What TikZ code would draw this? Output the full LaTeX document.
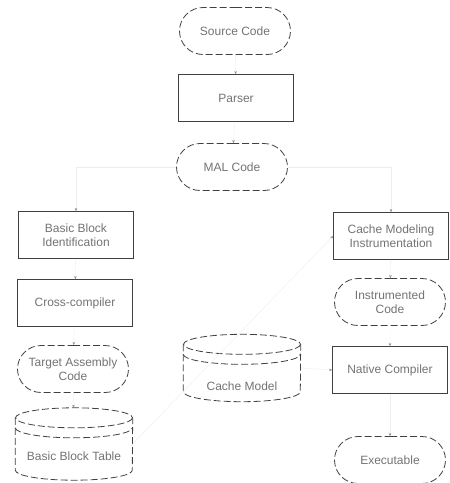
\documentclass[tikz,border=0pt]{standalone}
\usepackage{fontspec}
\setmainfont{Liberation Sans}
\usetikzlibrary{arrows.meta,calc,shapes.misc}
\tikzset{
  base/.style={draw=black!75, line width=0.8pt, text=black!55, font=\fontsize{12}{13.5}\selectfont, align=center, inner sep=2pt},
  stadium/.style={base, rounded rectangle, dashed, dash pattern=on 7pt off 3pt, minimum width=115pt, minimum height=47pt},
  boxnode/.style={base, rectangle, minimum width=115pt, minimum height=47pt},
  drumbody/.style={draw=none, minimum width=117pt, inner sep=0pt},
  drumline/.style={draw=black!75, line width=0.8pt, dashed, dash pattern=on 7pt off 3pt},
  drumtext/.style={text=black!55, font=\fontsize{12}{13.5}\selectfont},
  conn/.style={draw=black!7, line width=0.4pt, -{Stealth[length=3pt,width=2.5pt,color=black!45,fill=black!45]}}
}
\begin{document}
\begin{tikzpicture}[x=1pt,y=-1pt]
\useasboundingbox (0,0) rectangle (450,483);
% nodes
\node[stadium] (src) at (235,31) {Source Code};
\node[boxnode] (parser) at (236,98) {Parser};
\node[stadium] (mal) at (232,167) {MAL Code};
\node[boxnode] (bbi) at (76,235) {Basic Block\\Identification};
\node[boxnode] (cross) at (75,303) {Cross-compiler};
\node[stadium] (tac) at (73,369) {Target Assembly\\Code};
\node[boxnode] (cmi) at (391,236) {Cache Modeling\\Instrumentation};
\node[stadium] (inst) at (390,302) {Instrumented\\Code};
\node[boxnode] (native) at (390,370) {Native Compiler};
\node[stadium] (exe) at (390,460) {Executable};
% drums
\node[drumbody, minimum height=72pt] (bbt) at (74,444) {};
\draw[drumline] ($(bbt.north)+(0,10)$) ellipse [x radius=58.5, y radius=10];
\draw[drumline] ($(bbt.north west)+(0,10)$) -- ($(bbt.south west)+(0,-10)$)
  arc[start angle=180, end angle=0, x radius=58.5, y radius=10] -- ($(bbt.north east)+(0,10)$);
\draw[drumline] ($(bbt.north west)+(0,20)$) arc[start angle=180, end angle=0, x radius=58.5, y radius=10];
\node[drumtext] (bbtl) at (74,456) {Basic Block Table};
\node[drumbody, minimum height=67pt] (cm) at (242,368) {};
\draw[drumline] ($(cm.north)+(0,10)$) ellipse [x radius=58.5, y radius=10];
\draw[drumline] ($(cm.north west)+(0,10)$) -- ($(cm.south west)+(0,-10)$)
  arc[start angle=180, end angle=0, x radius=58.5, y radius=10] -- ($(cm.north east)+(0,10)$);
\draw[drumline] ($(cm.north west)+(0,20)$) arc[start angle=180, end angle=0, x radius=58.5, y radius=10];
\node[drumtext] (cml) at (242,386) {Cache Model};
% connectors
\draw[conn] (src) -- (parser);
\draw[conn] (parser) -- (mal);
\draw[conn] (mal) -| (bbi);
\draw[conn] (mal) -| (cmi);
\draw[conn] (bbi) -- (cross);
\draw[conn] (cross) -- (tac);
\draw[conn] (tac) -- (bbt);
\draw[conn] (bbt.east) -- (cmi.west);
\draw[conn] (cmi) -- (inst);
\draw[conn] (inst) -- (native);
\draw[conn] (cm.east) -- (native.west);
\draw[conn] (native) -- (exe);
\end{tikzpicture}
\end{document}
